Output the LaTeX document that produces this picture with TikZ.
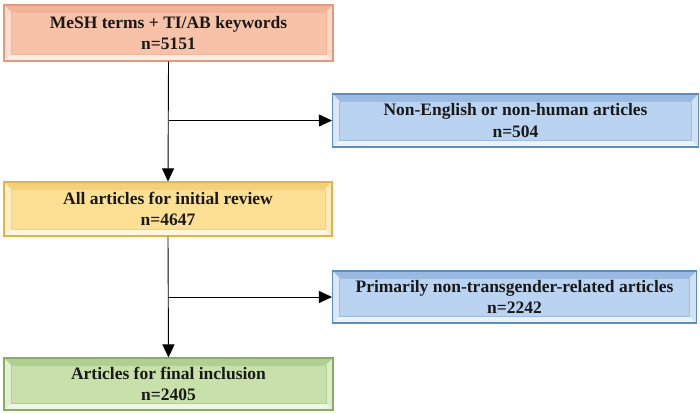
\documentclass[tikz,border=0pt]{standalone}
\usepackage{fontspec}
\setmainfont{Liberation Serif}
\usepackage{xcolor}
\usepackage{tikz}
\usetikzlibrary{positioning}
\usetikzlibrary{calc}
\usetikzlibrary{arrows.meta}

\definecolor{peach}{HTML}{F8C2A8}
\definecolor{peachline}{HTML}{E39A7C}
\definecolor{sky}{HTML}{BAD3F0}
\definecolor{skyline}{HTML}{5F8BC4}
\definecolor{straw}{HTML}{FDE093}
\definecolor{strawline}{HTML}{E2B445}
\definecolor{moss}{HTML}{C8E1AB}
\definecolor{mossline}{HTML}{86AD63}

\begin{document}
\begin{tikzpicture}
  [
    x=1pt, y=-1pt,
    stage/.style={rectangle, draw=#1line, fill=#1, line width=1.1pt,
      inner sep=0pt, align=center, text=black!90,
      font=\fontsize{17.5}{21.5}\selectfont\bfseries,
      path picture={
        \coordinate (nw) at (path picture bounding box.north west);
        \coordinate (ne) at (path picture bounding box.north east);
        \coordinate (sw) at (path picture bounding box.south west);
        \coordinate (se) at (path picture bounding box.south east);
        \fill[#1!65!#1line] (nw) -- (ne) -- ($(ne)+(-7pt,-7pt)$) -- ($(nw)+(7pt,-7pt)$) -- cycle;
        \fill[#1!55!white] (nw) -- (sw) -- ($(sw)+(7pt,7pt)$) -- ($(nw)+(7pt,-7pt)$) -- cycle;
        \fill[#1!30!white] (sw) -- (se) -- ($(se)+(-7pt,7pt)$) -- ($(sw)+(7pt,7pt)$) -- cycle;
        \fill[#1!65!white] (ne) -- (se) -- ($(se)+(-7pt,7pt)$) -- ($(ne)+(-7pt,-7pt)$) -- cycle;
        \draw[#1!70!#1line, line width=0.4pt] ($(nw)+(7pt,-7pt)$) rectangle ($(se)+(-7pt,7pt)$);
      }},
    flow/.style={line width=0.9pt, -{Triangle[length=13pt,width=12pt]}}
  ]
  \useasboundingbox (0,0) rectangle (700,412);

  \node (search)  at (168.5,33)  [stage=peach, minimum width=329pt, minimum height=56pt] {MeSH terms + TI/AB keywords\\n=5151};
  \node (lang)    at (515.5,120.5) [stage=sky, minimum width=366pt, minimum height=53pt] {Non-English or non-human articles\\n=504};
  \node (review)  at (168,209)   [stage=straw, minimum width=328pt, minimum height=54pt] {All articles for initial review\\n=4647};
  \node (topic)   at (514.5,297) [stage=sky, minimum width=364pt, minimum height=52pt] {Primarily non-transgender-related articles\\n=2242};
  \node (final)   at (168.5,384) [stage=moss, minimum width=329pt, minimum height=52pt] {Articles for final inclusion\\n=2405};

  \coordinate (split1) at (search.south |- lang.west);
  \coordinate (split2) at (review.south |- topic.west);

  \draw [flow] (search.south) -- (review.north);
  \draw [flow] (split1) -- (lang.west);
  \draw [flow] (review.south) -- (final.north);
  \draw [flow] (split2) -- (topic.west);
\end{tikzpicture}
\end{document}
